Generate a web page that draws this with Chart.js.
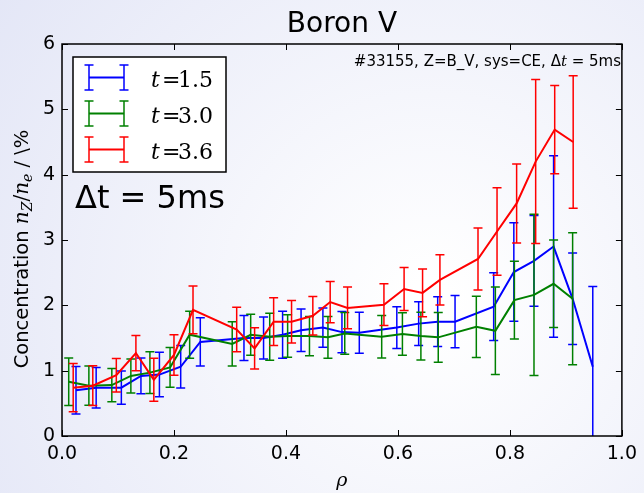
<!DOCTYPE html>
<html><head><meta charset="utf-8">
<script src="https://cdn.jsdelivr.net/npm/chart.js@4"></script>
<style>html,body{margin:0;padding:0;background:#fff}#wrap{width:644px;height:493px;position:relative}</style>
</head><body><div id="wrap"><canvas id="c" width="644" height="493"></canvas></div>
<script>
// ---- data ----
const seriesLabels = ['1.5', '3.0', '3.6'];
const seriesColors = ['#0000ff', '#008000', '#ff0000'];

const rhoT15 = [0.025,0.061,0.106,0.141,0.174,0.212,0.247,0.325,0.360,0.394,0.427,0.466,0.500,0.531,0.598,0.637,0.671,0.702,0.771,0.807,0.843,0.878,0.912,0.948];
const concT15 = [0.70,0.74,0.74,0.92,0.94,1.06,1.44,1.50,1.50,1.55,1.62,1.66,1.59,1.58,1.66,1.72,1.75,1.75,1.98,2.51,2.68,2.90,2.10,1.06];
const errT15 = [0.365,0.31,0.255,0.275,0.34,0.325,0.37,0.345,0.32,0.36,0.325,0.30,0.315,0.315,0.32,0.335,0.38,0.40,0.52,0.755,0.695,1.39,0.70,1.23];

const rhoT30 = [0.012,0.048,0.089,0.123,0.157,0.193,0.228,0.304,0.337,0.371,0.403,0.442,0.475,0.505,0.571,0.608,0.641,0.672,0.740,0.774,0.808,0.843,0.878,0.912];
const concT30 = [0.83,0.77,0.78,0.92,0.97,1.05,1.55,1.41,1.55,1.52,1.53,1.53,1.51,1.57,1.52,1.56,1.53,1.51,1.67,1.61,2.08,2.16,2.33,2.10];
const errT30 = [0.365,0.30,0.255,0.26,0.32,0.305,0.36,0.34,0.315,0.36,0.325,0.30,0.32,0.32,0.325,0.325,0.365,0.38,0.47,0.67,0.595,1.235,0.67,1.01];

const rhoT36 = [0.020,0.055,0.097,0.132,0.164,0.200,0.234,0.312,0.344,0.378,0.410,0.448,0.479,0.510,0.575,0.611,0.644,0.675,0.743,0.777,0.812,0.846,0.880,0.913];
const concT36 = [0.74,0.77,0.93,1.27,0.86,1.24,1.93,1.63,1.34,1.75,1.75,1.84,2.05,1.96,2.01,2.25,2.19,2.39,2.71,3.13,3.56,4.20,4.69,4.50];
const errT36 = [0.37,0.305,0.255,0.27,0.33,0.31,0.365,0.34,0.315,0.365,0.325,0.295,0.315,0.32,0.32,0.33,0.365,0.385,0.475,0.67,0.605,1.255,0.675,1.015];

const xTicks = [0.0, 0.2, 0.4, 0.6, 0.8, 1.0];
const yTicks = [0, 1, 2, 3, 4, 5, 6];
const titleText = 'Boron V';
const noteText = '#33155, Z=B_V, sys=CE, ';
const bigNote = '\u0394t = 5ms';

// ---- build chart ----
const rhos = [rhoT15, rhoT30, rhoT36];
const concs = [concT15, concT30, concT36];
const errs = [errT15, errT30, errT36];
const datasets = seriesLabels.map((lab, k) => ({
  label: 't=' + lab,
  data: rhos[k].map((r, i) => ({x: r, y: concs[k][i]})),
  errors: errs[k],
  borderColor: seriesColors[k],
  backgroundColor: seriesColors[k],
  borderWidth: 2,
  pointRadius: 0,
  tension: 0,
  fill: false,
  order: 3 - k
}));

const CAP = 4.5;
function drawBar(ctx, px, top, bot) {
  ctx.beginPath();
  ctx.moveTo(px, top); ctx.lineTo(px, bot);
  ctx.moveTo(px - CAP, top); ctx.lineTo(px + CAP, top);
  ctx.moveTo(px - CAP, bot); ctx.lineTo(px + CAP, bot);
  ctx.stroke();
}

const bgPlugin = {
  id: 'bg',
  beforeDraw(chart) {
    const ctx = chart.ctx;
    ctx.save();
    const g = ctx.createRadialGradient(430, 300, 20, 430, 300, 560);
    g.addColorStop(0, '#ffffff');
    g.addColorStop(1, '#e2e5f6');
    ctx.fillStyle = g;
    ctx.fillRect(0, 0, chart.width, chart.height);
    ctx.restore();
  }
};

const errPlugin = {
  id: 'errbars',
  afterDatasetDraw(chart, args) {
    const ds = chart.data.datasets[args.index];
    const {ctx, chartArea: a, scales: {x, y}} = chart;
    ctx.save();
    ctx.beginPath(); ctx.rect(a.left, a.top, a.right - a.left, a.bottom - a.top); ctx.clip();
    ctx.strokeStyle = ds.borderColor; ctx.lineWidth = 1.5;
    ds.data.forEach((p, i) => {
      const e = ds.errors[i];
      drawBar(ctx, x.getPixelForValue(p.x), y.getPixelForValue(p.y + e), y.getPixelForValue(p.y - e));
    });
    ctx.restore();
  }
};

const decorPlugin = {
  id: 'decor',
  afterDraw(chart) {
    const {ctx, chartArea: a, scales: {x, y}} = chart;
    ctx.save();
    // frame + inward ticks
    ctx.strokeStyle = '#000'; ctx.lineWidth = 1;
    const TL = 6;
    ctx.beginPath();
    xTicks.forEach(v => { const px = Math.round(x.getPixelForValue(v)) + 0.5;
      ctx.moveTo(px, a.bottom); ctx.lineTo(px, a.bottom - TL);
      ctx.moveTo(px, a.top); ctx.lineTo(px, a.top + TL); });
    yTicks.forEach(v => { const py = Math.round(y.getPixelForValue(v)) + 0.5;
      ctx.moveTo(a.left, py); ctx.lineTo(a.left + TL, py);
      ctx.moveTo(a.right, py); ctx.lineTo(a.right - TL, py); });
    ctx.stroke();
    ctx.lineWidth = 1.5;
    ctx.strokeRect(a.left, a.top, a.right - a.left, a.bottom - a.top);

    ctx.fillStyle = '#000';
    // title
    ctx.font = '28px "DejaVu Sans"'; ctx.textAlign = 'center'; ctx.textBaseline = 'alphabetic';
    ctx.fillText(titleText, (a.left + a.right) / 2, 32);
    // note (right aligned)
    const tail1 = '\u0394', tailT = 't', tail2 = ' = 5ms';
    ctx.textAlign = 'left';
    const fN = '15px "DejaVu Sans"', fI = 'italic 15px "DejaVu Serif"';
    ctx.font = fN; const w0 = ctx.measureText(noteText).width, w1 = ctx.measureText(tail1).width, w3 = ctx.measureText(tail2).width;
    ctx.font = fI; const w2 = ctx.measureText(tailT).width;
    let nx = 621 - (w0 + w1 + w2 + w3);
    ctx.font = fN; ctx.fillText(noteText, nx, 66); nx += w0;
    ctx.fillText(tail1, nx, 66); nx += w1;
    ctx.font = fI; ctx.fillText(tailT, nx, 66); nx += w2;
    ctx.font = fN; ctx.fillText(tail2, nx, 66);
    // big note
    ctx.font = '32px "DejaVu Sans"';
    ctx.fillText(bigNote, 75, 208);

    // legend
    ctx.fillStyle = '#fff';
    ctx.fillRect(73, 57, 153, 115);
    ctx.strokeStyle = '#000'; ctx.lineWidth = 1.5;
    ctx.strokeRect(73, 57, 153, 115);
    seriesLabels.forEach((lab, k) => {
      const cy = 77.5 + 36 * k;
      ctx.strokeStyle = seriesColors[k]; ctx.lineWidth = 2;
      ctx.beginPath(); ctx.moveTo(89, cy); ctx.lineTo(124, cy); ctx.stroke();
      ctx.lineWidth = 1.5;
      drawBar(ctx, 89, cy - 12.5, cy + 12.5);
      drawBar(ctx, 124, cy - 12.5, cy + 12.5);
      ctx.fillStyle = '#000';
      ctx.font = 'italic 22px "DejaVu Serif"';
      ctx.fillText('t', 151, cy + 9);
      ctx.font = '22px "DejaVu Serif"';
      ctx.fillText('=', 162, cy + 9);
      ctx.fillText(lab, 178, cy + 9);
    });

    // axis labels
    ctx.fillStyle = '#000';
    ctx.font = 'italic 19px "DejaVu Serif"'; ctx.textAlign = 'center';
    ctx.fillText('\u03C1', (a.left + a.right) / 2, 486);

    // y label rotated
    ctx.save();
    ctx.translate(28, 249);
    ctx.rotate(-Math.PI / 2);
    const segs = [
      {t: 'Concentration ', f: '19.5px "DejaVu Sans"', dy: 0},
      {t: 'n', f: 'italic 20px "DejaVu Serif"', dy: 0},
      {t: 'Z', f: 'italic 14px "DejaVu Serif"', dy: 4},
      {t: '/', f: '20px "DejaVu Serif"', dy: 0},
      {t: 'n', f: 'italic 20px "DejaVu Serif"', dy: 0},
      {t: 'e', f: 'italic 14px "DejaVu Serif"', dy: 4},
      {t: ' / \\%', f: '19.5px "DejaVu Sans"', dy: 0}
    ];
    let tw = 0;
    segs.forEach(s => { ctx.font = s.f; s.w = ctx.measureText(s.t).width; tw += s.w; });
    let sx = -tw / 2;
    ctx.textAlign = 'left';
    segs.forEach(s => { ctx.font = s.f; ctx.fillText(s.t, sx, s.dy); sx += s.w; });
    ctx.restore();

    ctx.restore();
  }
};

new Chart(document.getElementById('c'), {
  type: 'line',
  data: {datasets},
  options: {
    responsive: false,
    animation: false,
    devicePixelRatio: 1,
    layout: {padding: {left: 0, right: 16, top: 44, bottom: 0}},
    plugins: {legend: {display: false}, tooltip: {enabled: false}, title: {display: false}},
    scales: {
      x: {
        type: 'linear', min: 0, max: 1,
        afterFit(s) { s.height = 57; },
        afterBuildTicks(s) { s.ticks = xTicks.map(v => ({value: v})); },
        grid: {display: false, drawTicks: false},
        border: {display: false},
        ticks: {color: '#000', padding: 7, font: {family: 'DejaVu Sans', size: 19}, callback: v => v.toFixed(1), maxRotation: 0}
      },
      y: {
        min: 0, max: 6,
        afterFit(s) { s.width = 62; },
        afterBuildTicks(s) { s.ticks = yTicks.map(v => ({value: v})); },
        grid: {display: false, drawTicks: false},
        border: {display: false},
        ticks: {color: '#000', padding: 7, font: {family: 'DejaVu Sans', size: 19}, callback: v => String(v)}
      }
    }
  },
  plugins: [bgPlugin, errPlugin, decorPlugin]
});
</script>
</body></html>
